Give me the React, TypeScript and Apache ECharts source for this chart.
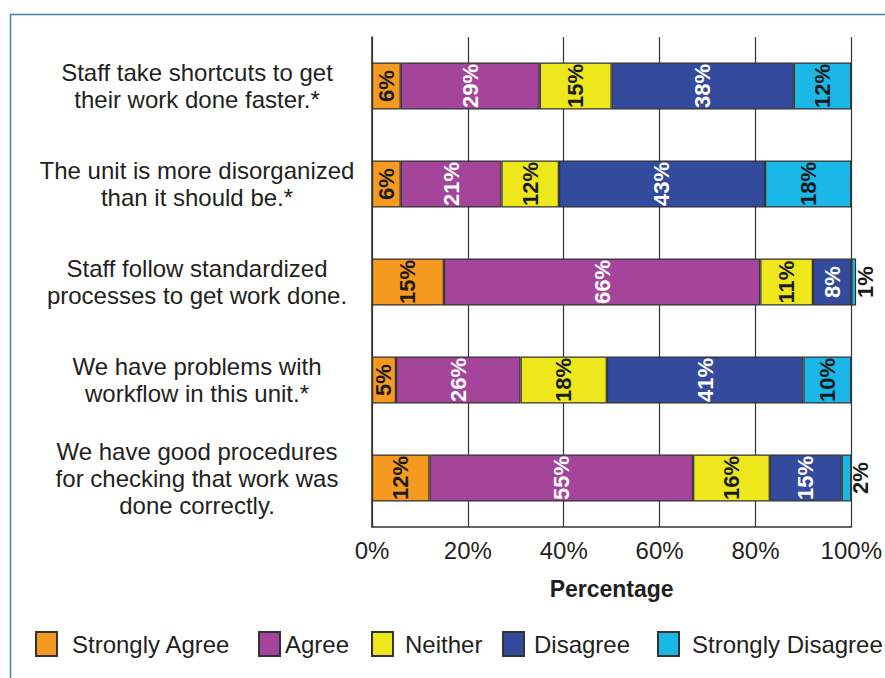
import React, { useEffect, useRef } from "react";
import * as echarts from "echarts";

// Survey statements, top to bottom
const categories = [
  "Staff take shortcuts to get\ntheir work done faster.*",
  "The unit is more disorganized\nthan it should be.*",
  "Staff follow standardized\nprocesses to get work done.",
  "We have problems with\nworkflow in this unit.*",
  "We have good procedures\nfor checking that work was\ndone correctly.",
];

// Response shares (%) per statement
const stronglyAgree = [6, 6, 15, 5, 12];
const agree = [29, 21, 66, 26, 55];
const neither = [15, 12, 11, 18, 16];
const disagree = [38, 43, 8, 41, 15];
const stronglyDisagree = [12, 18, 1, 10, 2];

const xTicks = [0, 20, 40, 60, 80, 100];

const seriesDefs = [
  { name: "Strongly Agree", data: stronglyAgree, color: "#F6991F", text: "#1a1a1a" },
  { name: "Agree", data: agree, color: "#A4449A", text: "#ffffff" },
  { name: "Neither", data: neither, color: "#EDE71C", text: "#1a1a1a" },
  { name: "Disagree", data: disagree, color: "#344A9C", text: "#ffffff" },
  { name: "Strongly Disagree", data: stronglyDisagree, color: "#1BB7E6", text: "#1a1a1a" },
];

// Legend placement: left edge and gap between swatch and text
const legendSlots = [
  { left: 35, gap: 15 },
  { left: 258, gap: 5 },
  { left: 371, gap: 12 },
  { left: 502, gap: 10 },
  { left: 657, gap: 13 },
];

const FONT = "'Liberation Sans', Arial, Helvetica, sans-serif";

export default function App() {
  const ref = useRef<HTMLDivElement>(null);

  useEffect(() => {
    const chart = echarts.init(ref.current!, null, { renderer: "svg" });

    const series = seriesDefs.map((s) => ({
      name: s.name,
      type: "bar",
      stack: "total",
      barWidth: "48%",
      clip: false,
      itemStyle: { color: s.color, borderColor: "#333333", borderWidth: 1.2 },
      label: {
        show: true,
        position: "inside",
        rotate: 90,
        formatter: "{c}%",
        fontFamily: FONT,
        fontWeight: "bold",
        fontSize: 22,
        color: s.text,
      },
      data: s.data.map((v) =>
        v < 5
          ? {
              value: v,
              label: {
                position: "right",
                distance: 9,
                align: "center",
                verticalAlign: "middle",
                color: "#1a1a1a",
              },
            }
          : v
      ),
    }));

    const legends = seriesDefs.map((s, i) => ({
      data: [s.name],
      left: legendSlots[i].left,
      top: 631,
      padding: 0,
      icon: "rect",
      itemWidth: 21,
      itemHeight: 24,
      selectedMode: false,
      textStyle: {
        fontFamily: FONT,
        fontSize: 24,
        color: "#231f20",
        padding: [0, 0, 0, legendSlots[i].gap - 5],
      },
    }));

    chart.setOption({
      animation: false,
      backgroundColor: "#ffffff",
      graphic: [
        {
          type: "rect",
          left: 8,
          top: 12,
          shape: { width: 900, height: 700 },
          style: { fill: "none", stroke: "#4f7da8", lineWidth: 1.5 },
          silent: true,
        },
      ],
      grid: { left: 372, right: 33, top: 37, bottom: 151, containLabel: false },
      legend: legends,
      xAxis: {
        type: "value",
        min: 0,
        max: 100,
        interval: 20,
        name: "Percentage",
        nameLocation: "middle",
        nameGap: 50,
        nameTextStyle: {
          fontFamily: FONT,
          fontSize: 23,
          fontWeight: "bold",
          color: "#231f20",
        },
        axisLine: { show: true, lineStyle: { color: "#333333", width: 1.6 } },
        axisTick: { show: false },
        splitLine: { show: true, lineStyle: { color: "#333333", width: 1.2 } },
        axisLabel: {
          margin: 11,
          fontFamily: FONT,
          fontSize: 24,
          color: "#231f20",
          formatter: (v: number) => (xTicks.includes(v) ? `${v}%` : ""),
        },
      },
      yAxis: {
        type: "category",
        inverse: true,
        data: categories,
        axisLine: { show: true, lineStyle: { color: "#333333", width: 1.6 } },
        axisTick: { show: false },
        axisLabel: {
          margin: 175,
          align: "center",
          fontFamily: FONT,
          fontSize: 24,
          lineHeight: 27,
          color: "#231f20",
        },
      },
      series,
    });

    return () => chart.dispose();
  }, []);

  return (
    <div
      ref={ref}
      style={{ position: "fixed", left: 0, top: 0, width: 885, height: 678 }}
    />
  );
}
